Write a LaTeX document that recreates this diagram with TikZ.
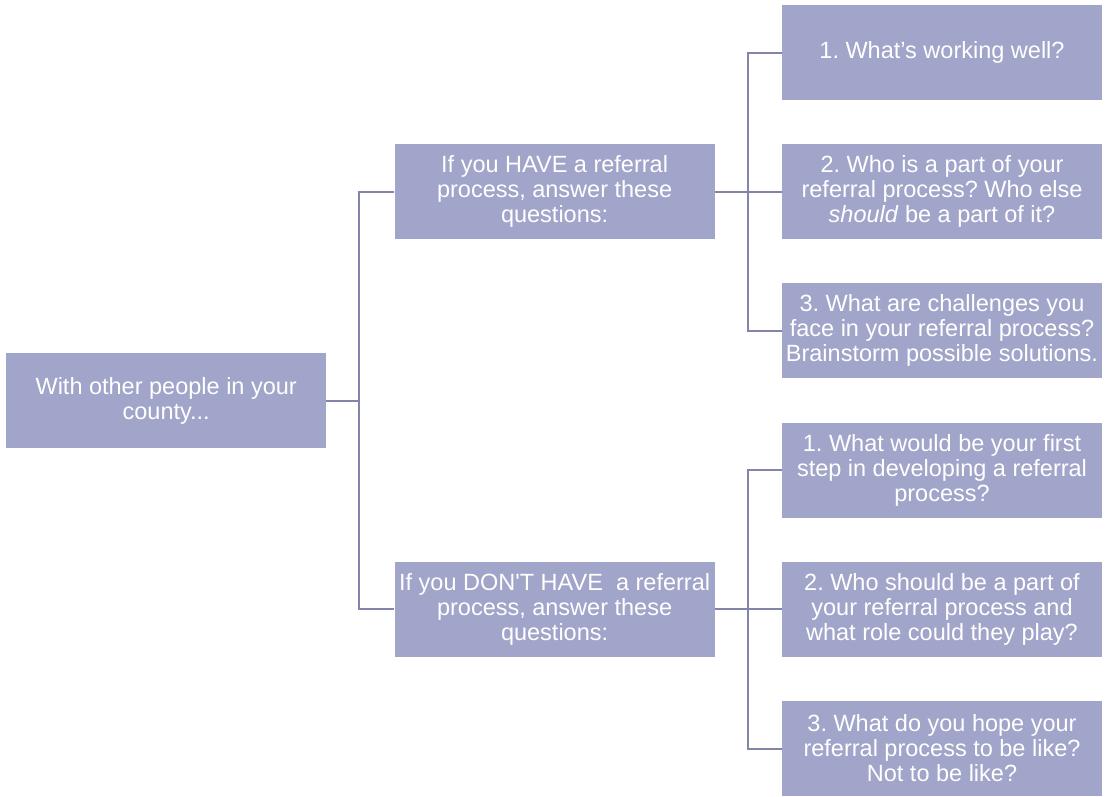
\documentclass[tikz,border=0pt]{standalone}
\usepackage{fontspec}
\setmainfont{Liberation Sans}
\usepackage{tikz}
\usetikzlibrary{positioning, calc}
\usepackage{xcolor}
\definecolor{boxfill}{HTML}{A0A5C9}
\definecolor{linkcol}{HTML}{8285A8}
\frenchspacing

\begin{document}
\begin{tikzpicture}[
    node distance=43.8pt and 67pt,
    box/.style={rectangle, fill=boxfill, minimum width=320pt, minimum height=95pt,
                inner sep=0pt, align=center, text=white,
                font=\fontsize{23.5}{25}\selectfont},
    link/.style={draw=linkcol, line width=2pt}
]
\useasboundingbox (-167pt,-396pt) rectangle (938pt,400pt);
\node[box] at (775pt,347.5pt) (have1) {1. What’s working well?};
\node[box, below=of have1] (have2) {2. Who is a part of your\\referral process? Who else\\\textit{should} be a part of it?};
\node[box, below=of have2] (have3) {3. What are challenges you\\face in your referral process?\\Brainstorm possible solutions.};
\node[box, below=of have3] (nothave1) {1. What would be your first\\step in developing a referral\\process?};
\node[box, below=of nothave1] (nothave2) {2. Who should be a part of\\your referral process and\\what role could they play?};
\node[box, below=of nothave2] (nothave3) {3. What do you hope your\\referral process to be like?\\Not to be like?};
\node[box, left=of have2] (have) {If you HAVE a referral\\process, answer these\\questions:};
\node[box, left=of nothave2] (nothave) {If you DON\textquotesingle T HAVE\ \ a referral\\process, answer these\\questions:};
\coordinate (midbranch) at ($(have.west)!0.5!(nothave.west)$);
\node[box, left=68pt of midbranch] (root) {With other people in your\\county...};

\draw[link] (root.east) -- ++(33pt,0) coordinate (j0);
\draw[link] (j0) |- (have.west);
\draw[link] (j0) |- (nothave.west);
\draw[link] (have.east) -- ++(33pt,0) coordinate (j1);
\draw[link] (j1) |- (have1.west);
\draw[link] (j1) -- (have2.west);
\draw[link] (j1) |- (have3.west);
\draw[link] (nothave.east) -- ++(33pt,0) coordinate (j2);
\draw[link] (j2) |- (nothave1.west);
\draw[link] (j2) -- (nothave2.west);
\draw[link] (j2) |- (nothave3.west);
\end{tikzpicture}
\end{document}
